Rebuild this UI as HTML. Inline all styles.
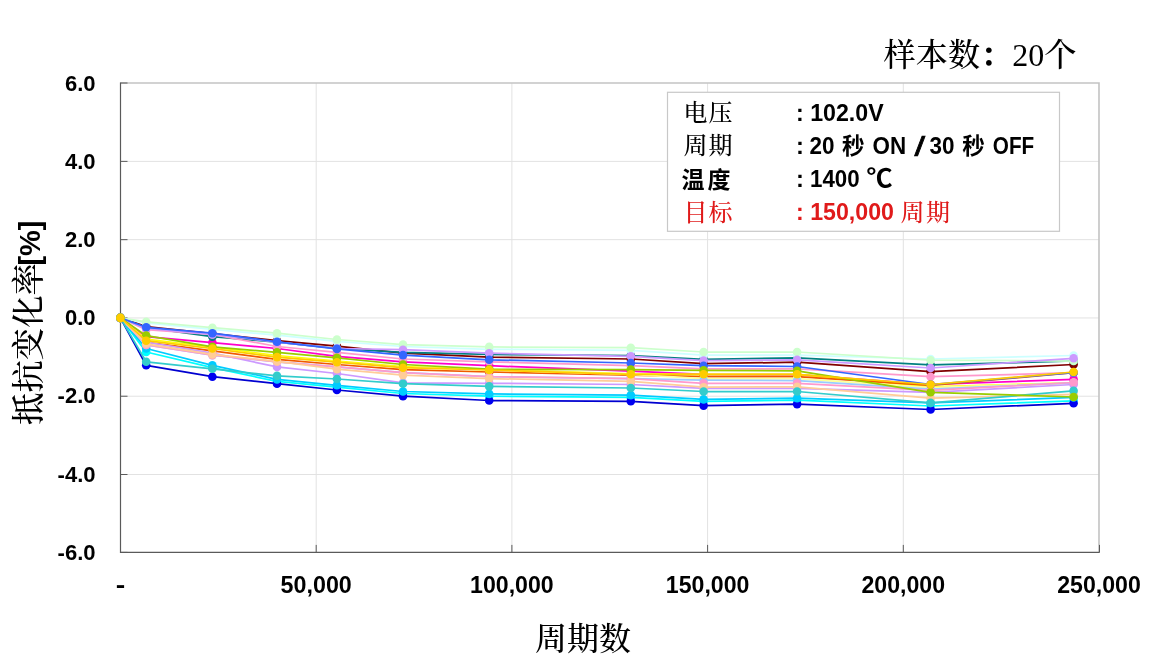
<!DOCTYPE html>
<html lang="zh-CN">
<head>
<meta charset="utf-8">
<title>抵抗变化率 - 周期数</title>
<style>
html,body{margin:0;padding:0;background:#fff;}
body{width:1150px;height:666px;overflow:hidden;}
svg{display:block;}
.sans{font-family:"Liberation Sans","Noto Sans CJK SC",sans-serif;font-weight:bold;}
.serif{font-family:"Liberation Serif","Noto Serif CJK SC",serif;font-weight:500;}
</style>
</head>
<body>
<svg width="1150" height="666" viewBox="0 0 1150 666">
<rect x="0" y="0" width="1150" height="666" fill="#ffffff"/>

<g stroke="#e2e2e2" stroke-width="1" fill="none">
<line x1="316.2" y1="83.0" x2="316.2" y2="552.4"/>
<line x1="511.9" y1="83.0" x2="511.9" y2="552.4"/>
<line x1="707.6" y1="83.0" x2="707.6" y2="552.4"/>
<line x1="903.3" y1="83.0" x2="903.3" y2="552.4"/>
<line x1="120.5" y1="161.39" x2="1099.0" y2="161.39"/>
<line x1="120.5" y1="239.67" x2="1099.0" y2="239.67"/>
<line x1="120.5" y1="317.95" x2="1099.0" y2="317.95"/>
<line x1="120.5" y1="396.23" x2="1099.0" y2="396.23"/>
<line x1="120.5" y1="474.51" x2="1099.0" y2="474.51"/>
</g>
<path d="M120.5 83.0 H1099.0 V552.4" stroke="#c3c3c3" stroke-width="1.6" fill="none"/>
<path d="M120.5 82.5 V552.4 H1099.6" stroke="#5a5a5a" stroke-width="1.2" fill="none"/>
<g stroke="#5a5a5a" stroke-width="1" fill="none">
<line x1="120.5" y1="83.00" x2="127.5" y2="83.00"/>
<line x1="120.5" y1="161.39" x2="127.5" y2="161.39"/>
<line x1="120.5" y1="239.67" x2="127.5" y2="239.67"/>
<line x1="120.5" y1="317.95" x2="127.5" y2="317.95"/>
<line x1="120.5" y1="396.23" x2="127.5" y2="396.23"/>
<line x1="120.5" y1="474.51" x2="127.5" y2="474.51"/>
<line x1="120.5" y1="552.40" x2="127.5" y2="552.40"/>
<line x1="120.5" y1="552.4" x2="120.5" y2="544.9"/>
<line x1="316.2" y1="552.4" x2="316.2" y2="544.9"/>
<line x1="511.9" y1="552.4" x2="511.9" y2="544.9"/>
<line x1="707.6" y1="552.4" x2="707.6" y2="544.9"/>
<line x1="903.3" y1="552.4" x2="903.3" y2="544.9"/>
<line x1="1099.5" y1="552.4" x2="1099.5" y2="544.9"/>
</g>
<g fill="#FF00CC" stroke="none">
<polyline fill="none" stroke="#FF00CC" stroke-width="1.75" stroke-linejoin="round" points="120.4,317.9 146.2,336.7 212.4,342.6 277.0,348.5 336.9,356.3 403.0,361.8 489.2,365.7 630.8,371.2 703.6,374.3 797.1,374.7 930.6,384.5 1073.6,379.4"/>
<circle cx="120.4" cy="317.9" r="4.3"/>
<circle cx="146.2" cy="336.7" r="4.3"/>
<circle cx="212.4" cy="342.6" r="4.3"/>
<circle cx="277.0" cy="348.5" r="4.3"/>
<circle cx="336.9" cy="356.3" r="4.3"/>
<circle cx="403.0" cy="361.8" r="4.3"/>
<circle cx="489.2" cy="365.7" r="4.3"/>
<circle cx="630.8" cy="371.2" r="4.3"/>
<circle cx="703.6" cy="374.3" r="4.3"/>
<circle cx="797.1" cy="374.7" r="4.3"/>
<circle cx="930.6" cy="384.5" r="4.3"/>
<circle cx="1073.6" cy="379.4" r="4.3"/>
</g>
<g fill="#FFFF00" stroke="none">
<polyline fill="none" stroke="#FFFF00" stroke-width="1.75" stroke-linejoin="round" points="120.4,317.9 146.2,339.1 212.4,347.3 277.0,355.5 336.9,361.0 403.0,366.5 489.2,369.6 630.8,373.9 703.6,374.3 797.1,374.3 930.6,386.8 1073.6,382.9"/>
<circle cx="120.4" cy="317.9" r="4.3"/>
<circle cx="146.2" cy="339.1" r="4.3"/>
<circle cx="212.4" cy="347.3" r="4.3"/>
<circle cx="277.0" cy="355.5" r="4.3"/>
<circle cx="336.9" cy="361.0" r="4.3"/>
<circle cx="403.0" cy="366.5" r="4.3"/>
<circle cx="489.2" cy="369.6" r="4.3"/>
<circle cx="630.8" cy="373.9" r="4.3"/>
<circle cx="703.6" cy="374.3" r="4.3"/>
<circle cx="797.1" cy="374.3" r="4.3"/>
<circle cx="930.6" cy="386.8" r="4.3"/>
<circle cx="1073.6" cy="382.9" r="4.3"/>
</g>
<g fill="#00FFFF" stroke="none">
<polyline fill="none" stroke="#00FFFF" stroke-width="1.75" stroke-linejoin="round" points="120.4,317.9 146.2,352.0 212.4,367.7 277.0,381.4 336.9,387.2 403.0,393.5 489.2,396.2 630.8,397.4 703.6,401.3 797.1,400.1 930.6,406.0 1073.6,400.9"/>
<circle cx="120.4" cy="317.9" r="4.3"/>
<circle cx="146.2" cy="352.0" r="4.3"/>
<circle cx="212.4" cy="367.7" r="4.3"/>
<circle cx="277.0" cy="381.4" r="4.3"/>
<circle cx="336.9" cy="387.2" r="4.3"/>
<circle cx="403.0" cy="393.5" r="4.3"/>
<circle cx="489.2" cy="396.2" r="4.3"/>
<circle cx="630.8" cy="397.4" r="4.3"/>
<circle cx="703.6" cy="401.3" r="4.3"/>
<circle cx="797.1" cy="400.1" r="4.3"/>
<circle cx="930.6" cy="406.0" r="4.3"/>
<circle cx="1073.6" cy="400.9" r="4.3"/>
</g>
<g fill="#F05A00" stroke="none">
<polyline fill="none" stroke="#F05A00" stroke-width="1.75" stroke-linejoin="round" points="120.4,317.9 146.2,342.2 212.4,350.8 277.0,359.4 336.9,364.5 403.0,369.6 489.2,372.0 630.8,375.1 703.6,376.7 797.1,376.7 930.6,385.3 1073.6,372.7"/>
<circle cx="120.4" cy="317.9" r="4.3"/>
<circle cx="146.2" cy="342.2" r="4.3"/>
<circle cx="212.4" cy="350.8" r="4.3"/>
<circle cx="277.0" cy="359.4" r="4.3"/>
<circle cx="336.9" cy="364.5" r="4.3"/>
<circle cx="403.0" cy="369.6" r="4.3"/>
<circle cx="489.2" cy="372.0" r="4.3"/>
<circle cx="630.8" cy="375.1" r="4.3"/>
<circle cx="703.6" cy="376.7" r="4.3"/>
<circle cx="797.1" cy="376.7" r="4.3"/>
<circle cx="930.6" cy="385.3" r="4.3"/>
<circle cx="1073.6" cy="372.7" r="4.3"/>
</g>
<g fill="#800000" stroke="none">
<polyline fill="none" stroke="#800000" stroke-width="1.75" stroke-linejoin="round" points="120.4,317.9 146.2,326.6 212.4,333.6 277.0,340.7 336.9,346.1 403.0,353.2 489.2,357.1 630.8,359.0 703.6,363.7 797.1,362.2 930.6,371.6 1073.6,364.5"/>
<circle cx="120.4" cy="317.9" r="4.3"/>
<circle cx="146.2" cy="326.6" r="4.3"/>
<circle cx="212.4" cy="333.6" r="4.3"/>
<circle cx="277.0" cy="340.7" r="4.3"/>
<circle cx="336.9" cy="346.1" r="4.3"/>
<circle cx="403.0" cy="353.2" r="4.3"/>
<circle cx="489.2" cy="357.1" r="4.3"/>
<circle cx="630.8" cy="359.0" r="4.3"/>
<circle cx="703.6" cy="363.7" r="4.3"/>
<circle cx="797.1" cy="362.2" r="4.3"/>
<circle cx="930.6" cy="371.6" r="4.3"/>
<circle cx="1073.6" cy="364.5" r="4.3"/>
</g>
<g fill="#008080" stroke="none">
<polyline fill="none" stroke="#008080" stroke-width="1.75" stroke-linejoin="round" points="120.4,317.9 146.2,327.7 212.4,336.7 277.0,342.2 336.9,348.5 403.0,352.4 489.2,354.4 630.8,355.5 703.6,359.4 797.1,357.9 930.6,364.9 1073.6,361.0"/>
<circle cx="120.4" cy="317.9" r="4.3"/>
<circle cx="146.2" cy="327.7" r="4.3"/>
<circle cx="212.4" cy="336.7" r="4.3"/>
<circle cx="277.0" cy="342.2" r="4.3"/>
<circle cx="336.9" cy="348.5" r="4.3"/>
<circle cx="403.0" cy="352.4" r="4.3"/>
<circle cx="489.2" cy="354.4" r="4.3"/>
<circle cx="630.8" cy="355.5" r="4.3"/>
<circle cx="703.6" cy="359.4" r="4.3"/>
<circle cx="797.1" cy="357.9" r="4.3"/>
<circle cx="930.6" cy="364.9" r="4.3"/>
<circle cx="1073.6" cy="361.0" r="4.3"/>
</g>
<g fill="#0000F0" stroke="none">
<polyline fill="none" stroke="#0000D0" stroke-width="1.75" stroke-linejoin="round" points="120.4,317.9 146.2,365.3 212.4,376.7 277.0,383.7 336.9,390.0 403.0,396.2 489.2,400.5 630.8,401.3 703.6,405.6 797.1,404.1 930.6,409.5 1073.6,403.3"/>
<circle cx="120.4" cy="317.9" r="4.3"/>
<circle cx="146.2" cy="365.3" r="4.3"/>
<circle cx="212.4" cy="376.7" r="4.3"/>
<circle cx="277.0" cy="383.7" r="4.3"/>
<circle cx="336.9" cy="390.0" r="4.3"/>
<circle cx="403.0" cy="396.2" r="4.3"/>
<circle cx="489.2" cy="400.5" r="4.3"/>
<circle cx="630.8" cy="401.3" r="4.3"/>
<circle cx="703.6" cy="405.6" r="4.3"/>
<circle cx="797.1" cy="404.1" r="4.3"/>
<circle cx="930.6" cy="409.5" r="4.3"/>
<circle cx="1073.6" cy="403.3" r="4.3"/>
</g>
<g fill="#00CCFF" stroke="none">
<polyline fill="none" stroke="#00CCFF" stroke-width="1.75" stroke-linejoin="round" points="120.4,317.9 146.2,348.5 212.4,365.3 277.0,379.4 336.9,385.3 403.0,391.5 489.2,393.9 630.8,395.1 703.6,399.4 797.1,398.2 930.6,402.9 1073.6,397.4"/>
<circle cx="120.4" cy="317.9" r="4.3"/>
<circle cx="146.2" cy="348.5" r="4.3"/>
<circle cx="212.4" cy="365.3" r="4.3"/>
<circle cx="277.0" cy="379.4" r="4.3"/>
<circle cx="336.9" cy="385.3" r="4.3"/>
<circle cx="403.0" cy="391.5" r="4.3"/>
<circle cx="489.2" cy="393.9" r="4.3"/>
<circle cx="630.8" cy="395.1" r="4.3"/>
<circle cx="703.6" cy="399.4" r="4.3"/>
<circle cx="797.1" cy="398.2" r="4.3"/>
<circle cx="930.6" cy="402.9" r="4.3"/>
<circle cx="1073.6" cy="397.4" r="4.3"/>
</g>
<g fill="#CCFFFF" stroke="none">
<polyline fill="none" stroke="#CCFFFF" stroke-width="1.75" stroke-linejoin="round" points="120.4,317.9 146.2,323.0 212.4,329.3 277.0,335.2 336.9,341.4 403.0,346.5 489.2,349.3 630.8,350.4 703.6,355.1 797.1,355.1 930.6,359.0 1073.6,355.5"/>
<circle cx="120.4" cy="317.9" r="4.3"/>
<circle cx="146.2" cy="323.0" r="4.3"/>
<circle cx="212.4" cy="329.3" r="4.3"/>
<circle cx="277.0" cy="335.2" r="4.3"/>
<circle cx="336.9" cy="341.4" r="4.3"/>
<circle cx="403.0" cy="346.5" r="4.3"/>
<circle cx="489.2" cy="349.3" r="4.3"/>
<circle cx="630.8" cy="350.4" r="4.3"/>
<circle cx="703.6" cy="355.1" r="4.3"/>
<circle cx="797.1" cy="355.1" r="4.3"/>
<circle cx="930.6" cy="359.0" r="4.3"/>
<circle cx="1073.6" cy="355.5" r="4.3"/>
</g>
<g fill="#CCFFCC" stroke="none">
<polyline fill="none" stroke="#CCFFCC" stroke-width="1.75" stroke-linejoin="round" points="120.4,317.9 146.2,321.9 212.4,327.7 277.0,333.2 336.9,339.5 403.0,344.6 489.2,346.9 630.8,347.7 703.6,352.0 797.1,352.0 930.6,360.2 1073.6,361.0"/>
<circle cx="120.4" cy="317.9" r="4.3"/>
<circle cx="146.2" cy="321.9" r="4.3"/>
<circle cx="212.4" cy="327.7" r="4.3"/>
<circle cx="277.0" cy="333.2" r="4.3"/>
<circle cx="336.9" cy="339.5" r="4.3"/>
<circle cx="403.0" cy="344.6" r="4.3"/>
<circle cx="489.2" cy="346.9" r="4.3"/>
<circle cx="630.8" cy="347.7" r="4.3"/>
<circle cx="703.6" cy="352.0" r="4.3"/>
<circle cx="797.1" cy="352.0" r="4.3"/>
<circle cx="930.6" cy="360.2" r="4.3"/>
<circle cx="1073.6" cy="361.0" r="4.3"/>
</g>
<g fill="#FFFF99" stroke="none">
<polyline fill="none" stroke="#FFFF99" stroke-width="1.75" stroke-linejoin="round" points="120.4,317.9 146.2,340.7 212.4,348.5 277.0,357.1 336.9,362.2 403.0,367.7 489.2,370.0 630.8,374.3 703.6,378.6 797.1,378.6 930.6,387.6 1073.6,382.9"/>
<circle cx="120.4" cy="317.9" r="4.3"/>
<circle cx="146.2" cy="340.7" r="4.3"/>
<circle cx="212.4" cy="348.5" r="4.3"/>
<circle cx="277.0" cy="357.1" r="4.3"/>
<circle cx="336.9" cy="362.2" r="4.3"/>
<circle cx="403.0" cy="367.7" r="4.3"/>
<circle cx="489.2" cy="370.0" r="4.3"/>
<circle cx="630.8" cy="374.3" r="4.3"/>
<circle cx="703.6" cy="378.6" r="4.3"/>
<circle cx="797.1" cy="378.6" r="4.3"/>
<circle cx="930.6" cy="387.6" r="4.3"/>
<circle cx="1073.6" cy="382.9" r="4.3"/>
</g>
<g fill="#99CCFF" stroke="none">
<polyline fill="none" stroke="#99CCFF" stroke-width="1.75" stroke-linejoin="round" points="120.4,317.9 146.2,345.0 212.4,355.1 277.0,361.8 336.9,366.9 403.0,372.7 489.2,376.7 630.8,378.6 703.6,380.2 797.1,380.6 930.6,389.2 1073.6,382.9"/>
<circle cx="120.4" cy="317.9" r="4.3"/>
<circle cx="146.2" cy="345.0" r="4.3"/>
<circle cx="212.4" cy="355.1" r="4.3"/>
<circle cx="277.0" cy="361.8" r="4.3"/>
<circle cx="336.9" cy="366.9" r="4.3"/>
<circle cx="403.0" cy="372.7" r="4.3"/>
<circle cx="489.2" cy="376.7" r="4.3"/>
<circle cx="630.8" cy="378.6" r="4.3"/>
<circle cx="703.6" cy="380.2" r="4.3"/>
<circle cx="797.1" cy="380.6" r="4.3"/>
<circle cx="930.6" cy="389.2" r="4.3"/>
<circle cx="1073.6" cy="382.9" r="4.3"/>
</g>
<g fill="#CC99FF" stroke="none">
<polyline fill="none" stroke="#CC99FF" stroke-width="1.75" stroke-linejoin="round" points="120.4,317.9 146.2,342.2 212.4,353.2 277.0,366.9 336.9,373.5 403.0,382.9 489.2,383.3 630.8,384.5 703.6,388.4 797.1,388.4 930.6,392.3 1073.6,384.5"/>
<circle cx="120.4" cy="317.9" r="4.3"/>
<circle cx="146.2" cy="342.2" r="4.3"/>
<circle cx="212.4" cy="353.2" r="4.3"/>
<circle cx="277.0" cy="366.9" r="4.3"/>
<circle cx="336.9" cy="373.5" r="4.3"/>
<circle cx="403.0" cy="382.9" r="4.3"/>
<circle cx="489.2" cy="383.3" r="4.3"/>
<circle cx="630.8" cy="384.5" r="4.3"/>
<circle cx="703.6" cy="388.4" r="4.3"/>
<circle cx="797.1" cy="388.4" r="4.3"/>
<circle cx="930.6" cy="392.3" r="4.3"/>
<circle cx="1073.6" cy="384.5" r="4.3"/>
</g>
<g fill="#FF99CC" stroke="none">
<polyline fill="none" stroke="#FF99CC" stroke-width="1.75" stroke-linejoin="round" points="120.4,317.9 146.2,329.7 212.4,334.4 277.0,346.5 336.9,352.4 403.0,359.0 489.2,361.8 630.8,365.7 703.6,368.8 797.1,368.8 930.6,376.7 1073.6,372.7"/>
<circle cx="120.4" cy="317.9" r="4.3"/>
<circle cx="146.2" cy="329.7" r="4.3"/>
<circle cx="212.4" cy="334.4" r="4.3"/>
<circle cx="277.0" cy="346.5" r="4.3"/>
<circle cx="336.9" cy="352.4" r="4.3"/>
<circle cx="403.0" cy="359.0" r="4.3"/>
<circle cx="489.2" cy="361.8" r="4.3"/>
<circle cx="630.8" cy="365.7" r="4.3"/>
<circle cx="703.6" cy="368.8" r="4.3"/>
<circle cx="797.1" cy="368.8" r="4.3"/>
<circle cx="930.6" cy="376.7" r="4.3"/>
<circle cx="1073.6" cy="372.7" r="4.3"/>
</g>
<g fill="#FF99CC" stroke="none">
<polyline fill="none" stroke="#FF99CC" stroke-width="1.75" stroke-linejoin="round" points="120.4,317.9 146.2,345.0 212.4,355.1 277.0,361.8 336.9,366.9 403.0,372.7 489.2,376.7 630.8,378.6 703.6,383.3 797.1,383.3 930.6,390.4 1073.6,382.5"/>
<circle cx="120.4" cy="317.9" r="4.3"/>
<circle cx="146.2" cy="345.0" r="4.3"/>
<circle cx="212.4" cy="355.1" r="4.3"/>
<circle cx="277.0" cy="361.8" r="4.3"/>
<circle cx="336.9" cy="366.9" r="4.3"/>
<circle cx="403.0" cy="372.7" r="4.3"/>
<circle cx="489.2" cy="376.7" r="4.3"/>
<circle cx="630.8" cy="378.6" r="4.3"/>
<circle cx="703.6" cy="383.3" r="4.3"/>
<circle cx="797.1" cy="383.3" r="4.3"/>
<circle cx="930.6" cy="390.4" r="4.3"/>
<circle cx="1073.6" cy="382.5" r="4.3"/>
</g>
<g fill="#CC99FF" stroke="none">
<polyline fill="none" stroke="#CC99FF" stroke-width="1.75" stroke-linejoin="round" points="120.4,317.9 146.2,328.5 212.4,334.4 277.0,342.2 336.9,348.5 403.0,349.7 489.2,353.2 630.8,356.3 703.6,360.6 797.1,359.8 930.6,368.0 1073.6,358.3"/>
<circle cx="120.4" cy="317.9" r="4.3"/>
<circle cx="146.2" cy="328.5" r="4.3"/>
<circle cx="212.4" cy="334.4" r="4.3"/>
<circle cx="277.0" cy="342.2" r="4.3"/>
<circle cx="336.9" cy="348.5" r="4.3"/>
<circle cx="403.0" cy="349.7" r="4.3"/>
<circle cx="489.2" cy="353.2" r="4.3"/>
<circle cx="630.8" cy="356.3" r="4.3"/>
<circle cx="703.6" cy="360.6" r="4.3"/>
<circle cx="797.1" cy="359.8" r="4.3"/>
<circle cx="930.6" cy="368.0" r="4.3"/>
<circle cx="1073.6" cy="358.3" r="4.3"/>
</g>
<g fill="#FFCC99" stroke="none">
<polyline fill="none" stroke="#FFCC99" stroke-width="1.75" stroke-linejoin="round" points="120.4,317.9 146.2,343.8 212.4,354.4 277.0,361.4 336.9,369.2 403.0,375.1 489.2,378.6 630.8,381.4 703.6,387.2 797.1,386.8 930.6,398.2 1073.6,394.3"/>
<circle cx="120.4" cy="317.9" r="4.3"/>
<circle cx="146.2" cy="343.8" r="4.3"/>
<circle cx="212.4" cy="354.4" r="4.3"/>
<circle cx="277.0" cy="361.4" r="4.3"/>
<circle cx="336.9" cy="369.2" r="4.3"/>
<circle cx="403.0" cy="375.1" r="4.3"/>
<circle cx="489.2" cy="378.6" r="4.3"/>
<circle cx="630.8" cy="381.4" r="4.3"/>
<circle cx="703.6" cy="387.2" r="4.3"/>
<circle cx="797.1" cy="386.8" r="4.3"/>
<circle cx="930.6" cy="398.2" r="4.3"/>
<circle cx="1073.6" cy="394.3" r="4.3"/>
</g>
<g fill="#3366FF" stroke="none">
<polyline fill="none" stroke="#3366FF" stroke-width="1.75" stroke-linejoin="round" points="120.4,317.9 146.2,327.3 212.4,333.2 277.0,341.8 336.9,348.9 403.0,355.1 489.2,359.8 630.8,363.0 703.6,365.7 797.1,366.5 930.6,384.5 1073.6,372.7"/>
<circle cx="120.4" cy="317.9" r="4.3"/>
<circle cx="146.2" cy="327.3" r="4.3"/>
<circle cx="212.4" cy="333.2" r="4.3"/>
<circle cx="277.0" cy="341.8" r="4.3"/>
<circle cx="336.9" cy="348.9" r="4.3"/>
<circle cx="403.0" cy="355.1" r="4.3"/>
<circle cx="489.2" cy="359.8" r="4.3"/>
<circle cx="630.8" cy="363.0" r="4.3"/>
<circle cx="703.6" cy="365.7" r="4.3"/>
<circle cx="797.1" cy="366.5" r="4.3"/>
<circle cx="930.6" cy="384.5" r="4.3"/>
<circle cx="1073.6" cy="372.7" r="4.3"/>
</g>
<g fill="#33CCCC" stroke="none">
<polyline fill="none" stroke="#33CCCC" stroke-width="1.75" stroke-linejoin="round" points="120.4,317.9 146.2,361.8 212.4,368.8 277.0,375.9 336.9,379.0 403.0,383.7 489.2,386.4 630.8,388.0 703.6,391.5 797.1,391.5 930.6,402.9 1073.6,390.8"/>
<circle cx="120.4" cy="317.9" r="4.3"/>
<circle cx="146.2" cy="361.8" r="4.3"/>
<circle cx="212.4" cy="368.8" r="4.3"/>
<circle cx="277.0" cy="375.9" r="4.3"/>
<circle cx="336.9" cy="379.0" r="4.3"/>
<circle cx="403.0" cy="383.7" r="4.3"/>
<circle cx="489.2" cy="386.4" r="4.3"/>
<circle cx="630.8" cy="388.0" r="4.3"/>
<circle cx="703.6" cy="391.5" r="4.3"/>
<circle cx="797.1" cy="391.5" r="4.3"/>
<circle cx="930.6" cy="402.9" r="4.3"/>
<circle cx="1073.6" cy="390.8" r="4.3"/>
</g>
<g fill="#99CC00" stroke="none">
<polyline fill="none" stroke="#99CC00" stroke-width="1.75" stroke-linejoin="round" points="120.4,317.9 146.2,335.6 212.4,346.9 277.0,352.4 336.9,357.9 403.0,364.5 489.2,369.2 630.8,369.6 703.6,370.4 797.1,370.8 930.6,392.3 1073.6,397.0"/>
<circle cx="120.4" cy="317.9" r="4.3"/>
<circle cx="146.2" cy="335.6" r="4.3"/>
<circle cx="212.4" cy="346.9" r="4.3"/>
<circle cx="277.0" cy="352.4" r="4.3"/>
<circle cx="336.9" cy="357.9" r="4.3"/>
<circle cx="403.0" cy="364.5" r="4.3"/>
<circle cx="489.2" cy="369.2" r="4.3"/>
<circle cx="630.8" cy="369.6" r="4.3"/>
<circle cx="703.6" cy="370.4" r="4.3"/>
<circle cx="797.1" cy="370.8" r="4.3"/>
<circle cx="930.6" cy="392.3" r="4.3"/>
<circle cx="1073.6" cy="397.0" r="4.3"/>
</g>
<g fill="#FFCC00" stroke="none">
<polyline fill="none" stroke="#FFCC00" stroke-width="1.75" stroke-linejoin="round" points="120.4,317.9 146.2,340.7 212.4,348.5 277.0,357.1 336.9,362.2 403.0,367.7 489.2,370.0 630.8,374.3 703.6,374.3 797.1,374.3 930.6,384.5 1073.6,372.0"/>
<circle cx="120.4" cy="317.9" r="4.3"/>
<circle cx="146.2" cy="340.7" r="4.3"/>
<circle cx="212.4" cy="348.5" r="4.3"/>
<circle cx="277.0" cy="357.1" r="4.3"/>
<circle cx="336.9" cy="362.2" r="4.3"/>
<circle cx="403.0" cy="367.7" r="4.3"/>
<circle cx="489.2" cy="370.0" r="4.3"/>
<circle cx="630.8" cy="374.3" r="4.3"/>
<circle cx="703.6" cy="374.3" r="4.3"/>
<circle cx="797.1" cy="374.3" r="4.3"/>
<circle cx="930.6" cy="384.5" r="4.3"/>
<circle cx="1073.6" cy="372.0" r="4.3"/>
</g>
<g class="sans" font-size="21.8" fill="#000" text-anchor="end">
<text x="95.6" y="90.6" textLength="30.6" lengthAdjust="spacingAndGlyphs">6.0</text>
<text x="95.6" y="168.8" textLength="30.6" lengthAdjust="spacingAndGlyphs">4.0</text>
<text x="95.6" y="247.0" textLength="30.6" lengthAdjust="spacingAndGlyphs">2.0</text>
<text x="95.6" y="325.2" textLength="30.6" lengthAdjust="spacingAndGlyphs">0.0</text>
<text x="95.6" y="403.4" textLength="38.0" lengthAdjust="spacingAndGlyphs">-2.0</text>
<text x="95.6" y="481.6" textLength="38.0" lengthAdjust="spacingAndGlyphs">-4.0</text>
<text x="95.6" y="559.8" textLength="38.0" lengthAdjust="spacingAndGlyphs">-6.0</text>
</g>
<g class="sans" font-size="23.2" fill="#000" text-anchor="middle">
<text x="120.5" y="593" textLength="9.5" lengthAdjust="spacingAndGlyphs">-</text>
<text x="316.2" y="593" textLength="71.2" lengthAdjust="spacingAndGlyphs">50,000</text>
<text x="511.9" y="593" textLength="83.6" lengthAdjust="spacingAndGlyphs">100,000</text>
<text x="707.6" y="593" textLength="83.6" lengthAdjust="spacingAndGlyphs">150,000</text>
<text x="903.3" y="593" textLength="83.6" lengthAdjust="spacingAndGlyphs">200,000</text>
<text x="1099.0" y="593" textLength="83.6" lengthAdjust="spacingAndGlyphs">250,000</text>
</g>
<text class="serif" x="583" y="650" font-size="32" text-anchor="middle" fill="#000">周期数</text>
<g transform="translate(40,425) rotate(-90)"><text x="0" y="0" fill="#000"><tspan class="serif" font-size="32.4">抵抗变化率</tspan><tspan class="sans" font-size="29.5" dx="-2.5" textLength="45" lengthAdjust="spacingAndGlyphs">[%]</tspan></text></g>
<text class="serif" x="883.6" y="66" font-size="32.2" fill="#000">样本数<tspan font-weight="700">：</tspan><tspan textLength="32" lengthAdjust="spacingAndGlyphs">20</tspan>个</text>
<rect x="667.5" y="92.3" width="392" height="139" fill="#ffffff" stroke="#c8c8c8" stroke-width="1.2"/>
<g font-size="24" fill="#000">
<text class="serif" x="683.6" y="121" letter-spacing="1">电压</text>
<text class="sans" font-size="23.7" x="796" y="120.5" textLength="87.6" lengthAdjust="spacingAndGlyphs">: 102.0V</text>
<text class="serif" x="683.6" y="154.3" letter-spacing="1">周期</text>
<text class="sans" font-size="23.7" y="154.2" lengthAdjust="spacingAndGlyphs"><tspan x="796">:</tspan> <tspan x="809.4" textLength="25" lengthAdjust="spacingAndGlyphs">20</tspan> <tspan x="842" font-size="22.5">秒</tspan> <tspan x="872.6" textLength="33.6" lengthAdjust="spacingAndGlyphs">ON</tspan> <tspan x="929.6" textLength="25" lengthAdjust="spacingAndGlyphs">30</tspan> <tspan x="962.3" font-size="22.5">秒</tspan> <tspan x="992.8" textLength="41.4" lengthAdjust="spacingAndGlyphs">OFF</tspan></text>
<text class="sans" x="914.4" y="155.8" font-size="27" font-weight="normal" stroke="#000" stroke-width="0.7" textLength="10.6" lengthAdjust="spacingAndGlyphs" style="font-weight:normal">/</text>
<text class="sans" font-size="23" x="681.6" y="187.6" letter-spacing="3">温度</text>
<text class="sans" font-size="23.7" y="186.9"><tspan x="796">:</tspan> <tspan x="810" textLength="49.6" lengthAdjust="spacingAndGlyphs">1400</tspan> <tspan x="866.6" font-size="24.5" textLength="26" lengthAdjust="spacingAndGlyphs">℃</tspan></text>
</g>
<g font-size="24" fill="#e01a1a">
<text class="serif" x="683.6" y="221" letter-spacing="1">目标</text>
<text class="sans" font-size="23.7" x="796" y="220.1" textLength="98" lengthAdjust="spacingAndGlyphs">: 150,000</text>
<text class="serif" x="900.6" y="220.6" letter-spacing="1.3">周期</text>
</g>
</svg>
</body>
</html>
